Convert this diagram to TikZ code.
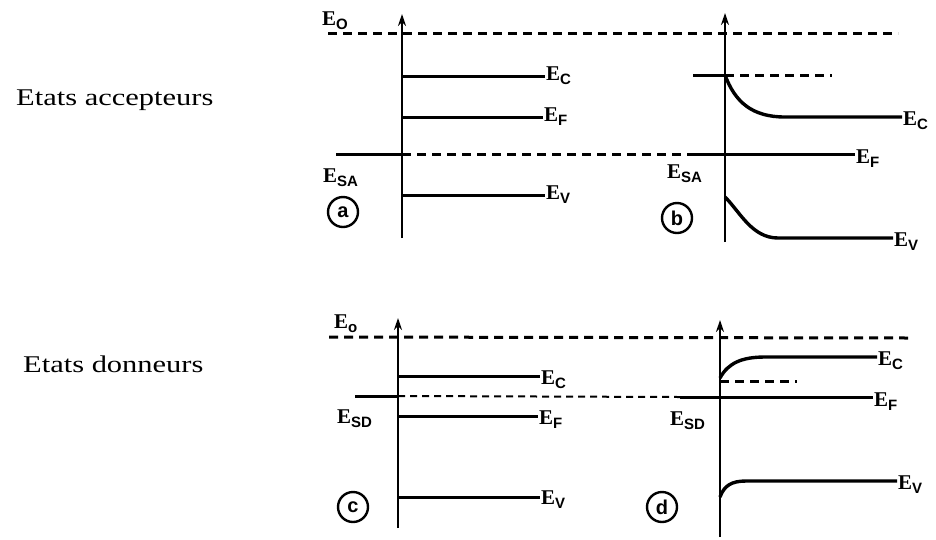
\documentclass[tikz,border=0pt]{standalone}
\usepackage{fontspec}
\setmainfont{Liberation Serif}
\setsansfont{Liberation Sans}
\newfontfamily\capfont[FakeStretch=1.27]{Liberation Serif}
\usetikzlibrary{
    arrows.meta,
    positioning,
    calc
}
% level label: bold E with a sans subscript
\newcommand{\Elvl}[1]{\textbf{E}\raisebox{-0.4ex}{\sffamily\bfseries\fontsize{15}{16}\selectfont #1}}
\tikzset{
    % --- Energy axis (vertical, with arrow) ---
    axis/.style = {
        -{Stealth[length=12pt,width=8pt]}, line width=2pt
    },
    % --- Band level (solid) ---
    level/.style = {
        line width=3pt
    },
    % --- Curved band (bending at surface) ---
    band/.style = {
        line width=3.4pt
    },
    % --- Dashed level (vacuum, surface states) ---
    dashed level/.style = {
        line width=3pt, dash pattern=on 9pt off 6pt
    },
    % --- Label at end of a level ---
    lvl label/.style = {
        font=\fontsize{21}{23}\selectfont, inner sep=1pt, anchor=west
    },
    % --- Panel tag (circled letter) ---
    tag/.style = {
        circle, draw, line width=2.4pt, minimum size=30pt, inner sep=0pt,
        font=\sffamily\bfseries\fontsize{20}{20}\selectfont
    },
    % --- Row caption ---
    caption/.style = {
        font=\capfont\fontsize{24}{26}\selectfont, anchor=base west, inner sep=0pt
    }
}

\begin{document}
\begin{tikzpicture}[x=1pt, y=-1pt]
\useasboundingbox (0,0) rectangle (936,539);

% ---------------------------------------------------------
% Row captions
% ---------------------------------------------------------
\node[caption] (CapAcc) at (16, 105) {Etats accepteurs};
\node[caption] (CapDon) at (23, 372) {Etats donneurs};

% ---------------------------------------------------------
% Top row: acceptor states
% ---------------------------------------------------------
\coordinate (AxA) at (402, 238);
\coordinate (AxB) at (725, 242);
\draw[axis] (AxA) -- ++(0, -224);
\draw[axis] (AxB) -- ++(0, -229);

% Vacuum level
\node[lvl label, anchor=south west] (E0top) at (321, 31) {\Elvl{O}};
\coordinate (E0topL) at (328, 33);
\coordinate (E0topR) at (898, 33);
\draw[dashed level] (E0topL) -- (E0topR);

% (a) flat bands
\node[lvl label] (ECa) at (545, 76) {\Elvl{C}};
\node[lvl label] (EFa) at (543, 117) {\Elvl{F}};
\node[lvl label] (EVa) at (545, 195) {\Elvl{V}};
\draw[level] (AxA |- ECa) -- (ECa.west);
\draw[level] (AxA |- EFa) -- (EFa.west);
\draw[level] (AxA |- EVa) -- (EVa.west);

% Surface acceptor level / Fermi level
\coordinate (ESAl) at (336, 154);
\coordinate (ESAm) at (693, 154);
\node[lvl label] (EFb) at (855, 159) {\Elvl{F}};
\draw[level] (ESAl) -- (AxA |- ESAl);
\draw[dashed level] (AxA |- ESAl) -- (ESAm);
\draw[level] (ESAm) -- (EFb.west |- ESAm);
\node[lvl label] (ESAa) at (322, 178) {\Elvl{SA}};
\node[lvl label] (ESAb) at (666, 174) {\Elvl{SA}};

% (b) bands bent towards the surface
\coordinate (ECbs) at (693, 75);
\coordinate (ECbd) at (832, 75);
\draw[level] (ECbs) -- (AxB |- ECbs);
\draw[dashed level] (AxB |- ECbs) -- (ECbd);
\node[lvl label] (ECb) at (902, 121) {\Elvl{C}};
\draw[band] (AxB |- ECbs) .. controls (735, 102) and (752, 117) .. (785, 117) -- (ECb.west |- 0,117);
\node[lvl label] (EVb) at (893, 242) {\Elvl{V}};
\draw[band] (AxB |- 0,197) .. controls (740, 212) and (752, 238) .. (778, 238) -- (EVb.west |- 0,238);

\node[tag] (TagA) at (343, 212) {a};
\node[tag] (TagB) at (677, 218) {b};

% ---------------------------------------------------------
% Bottom row: donor states
% ---------------------------------------------------------
\coordinate (AxC) at (398, 528);
\coordinate (AxD) at (720, 537);
\draw[axis] (AxC) -- ++(0, -210);
\draw[axis] (AxD) -- ++(0, -217);

% Vacuum level
\node[lvl label, anchor=south west] (E0bot) at (333, 334) {\Elvl{o}};
\coordinate (E0botL) at (329, 337);
\coordinate (E0botR) at (910, 338);
\draw[dashed level] (E0botL) -- (E0botR);

% (c) flat bands
\node[lvl label] (ECc) at (540, 380) {\Elvl{C}};
\node[lvl label] (EFc) at (538, 420) {\Elvl{F}};
\node[lvl label] (EVc) at (540, 500) {\Elvl{V}};
\draw[level] (AxC |- 0,376) -- (ECc.west |- 0,376);
\draw[level] (AxC |- 0,416) -- (EFc.west |- 0,416);
\draw[level] (AxC |- 0,497) -- (EVc.west |- 0,497);

% Surface donor level / Fermi level
\coordinate (ESDl) at (355, 396);
\coordinate (ESDm) at (680, 397);
\node[lvl label] (EFd) at (873, 402) {\Elvl{F}};
\draw[level] (ESDl) -- (AxC |- ESDl);
\draw[dashed level, line width=2pt, dash pattern=on 7pt off 5pt] (AxC |- ESDl) -- (ESDm);
\draw[level] (ESDm) -- (EFd.west |- ESDm);
\node[lvl label] (ESDc) at (336, 419) {\Elvl{SD}};
\node[lvl label] (ESDd) at (669, 421) {\Elvl{SD}};

% (d) bands bent towards the surface
\node[lvl label] (ECd) at (877, 361) {\Elvl{C}};
\draw[band] (AxD |- 0,378) .. controls (728, 363) and (742, 357) .. (765, 357) -- (ECd.west |- 0,357);
\coordinate (ECdd) at (797, 381);
\draw[dashed level] (AxD |- ECdd) -- (ECdd);
\node[lvl label] (EVd) at (897, 485) {\Elvl{V}};
\draw[band] (AxD |- 0,497) .. controls (724, 486) and (731, 481) .. (746, 481) -- (EVd.west |- 0,481);

\node[tag] (TagC) at (353, 507) {c};
\node[tag] (TagD) at (662, 507) {d};

\end{tikzpicture}
\end{document}
